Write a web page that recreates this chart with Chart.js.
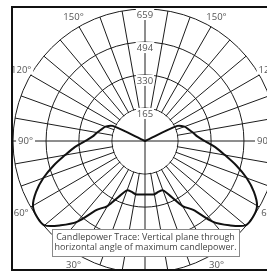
<!DOCTYPE html>
<html><head><meta charset="utf-8">
<script src="https://cdn.jsdelivr.net/npm/chart.js@4.4.0/dist/chart.umd.min.js"></script>
<style>
html,body{margin:0;padding:0;overflow:hidden;background:#fff;width:267px;height:274px;}
#clip{position:absolute;left:13px;top:9px;width:264px;height:260px;overflow:hidden;}
#frame{position:absolute;left:11px;top:6px;width:300px;height:261px;border:2px solid #111;pointer-events:none;}
canvas{display:block;}
</style></head><body>
<div id="clip"><canvas id="c" width="264" height="264" style="width:264px;height:264px"></canvas></div>
<div id="frame"></div>
<script>
// vertical angle from nadir (0° = straight down), going round the left side then the right side
const angles = [0,5,10,15,20,25,30,35,40,45,50,55,60,65,70,75,80,85,90,95,100,105,110,115,120,125,130,135,140,145,150,155,160,165,170,175,
                180,185,190,195,200,205,210,215,220,225,230,235,240,245,250,255,260,265,270,275,280,285,290,295,300,305,310,315,320,325,330,335,340,345,350,355];
// candela values
const candela = [267,268,270,262,262,305,375,420,525,595,655,659,646,600,540,472,405,352,298,262,243,225,210,178,0,0,0,0,0,0,0,0,0,0,0,0,
                 0,0,0,0,0,0,0,0,0,0,0,0,0,178,210,225,243,262,298,352,405,472,540,600,646,659,655,595,525,420,375,305,262,262,270,268];
const ringValues = [165,330,494,659];
const ringLabels = ['165','330','494','659'];
const angleTickValues = [30,60,90,120,150];
const angleTickLabels = ['30°','60°','90°','120°','150°'];
const noteLines = ['Candlepower Trace: Vertical plane through','horizontal angle of maximum candlepower.'];

const gridColor = '#1c1c1c';
const labelFont = '9.5px "Open Sans", sans-serif';

const overlay = {
  id: 'overlay',
  beforeDatasetsDraw(chart) {
    const s = chart.scales.r, ctx = chart.ctx;
    const r0 = s.getDistanceFromCenterForValue(ringValues[0]);
    const top = angles.indexOf(180), left = angles.indexOf(90), right = angles.indexOf(270);
    ctx.save();
    ctx.fillStyle = '#fff';
    ctx.beginPath(); ctx.arc(s.xCenter, s.yCenter, r0 - 0.6, 0, Math.PI * 2); ctx.fill();
    ctx.strokeStyle = gridColor; ctx.lineWidth = 1;
    [[0, top], [left, right]].forEach(([a, b]) => {
      const p = s.getPointPosition(a, r0), q = s.getPointPosition(b, r0);
      ctx.beginPath(); ctx.moveTo(p.x, p.y); ctx.lineTo(q.x, q.y); ctx.stroke();
    });
    ctx.font = labelFont; ctx.textAlign = 'center'; ctx.textBaseline = 'middle';
    ringValues.forEach((v, i) => {
      const p = s.getPointPosition(top, s.getDistanceFromCenterForValue(v) - 5.5);
      const w = ctx.measureText(ringLabels[i]).width;
      ctx.fillStyle = '#fff'; ctx.fillRect(p.x - w / 2 - 1, p.y - 5.5, w + 2, 11);
      ctx.fillStyle = '#555'; ctx.fillText(ringLabels[i], p.x, p.y + 0.5);
    });
    ctx.restore();
  },
  afterDraw(chart) {
    const s = chart.scales.r, ctx = chart.ctx, R = s.drawingArea;
    ctx.save();
    ctx.font = labelFont; ctx.textAlign = 'center'; ctx.textBaseline = 'middle';
    angleTickValues.forEach((a, i) => {
      const d = a === 90 ? R * 0.905 : R * 1.083;
      [angles.indexOf(a), angles.indexOf(360 - a)].forEach(idx => {
        const p = s.getPointPosition(idx, d);
        const w = ctx.measureText(angleTickLabels[i]).width;
        ctx.fillStyle = '#fff'; ctx.fillRect(p.x - w / 2 - 2, p.y - 5, w + 4, 10);
        ctx.fillStyle = '#555'; ctx.fillText(angleTickLabels[i], p.x, p.y + 0.5);
      });
    });
    const bx = s.xCenter - 93, by = s.yCenter + 88, bw = 187, bh = 27;
    ctx.fillStyle = '#fff'; ctx.fillRect(bx, by, bw, bh);
    ctx.strokeStyle = '#8a8a8a'; ctx.lineWidth = 1; ctx.strokeRect(bx + 0.5, by + 0.5, bw, bh);
    ctx.fillStyle = '#444'; ctx.font = '9px "Open Sans", sans-serif';
    noteLines.forEach((t, i) => ctx.fillText(t, s.xCenter + 0.5, by + 8 + i * 10.5));
    ctx.restore();
  }
};

new Chart(document.getElementById('c'), {
  type: 'radar',
  data: {
    labels: angles.map(a => a + '°'),
    datasets: [{
      data: candela, borderColor: '#111', borderWidth: 2, fill: false,
      pointRadius: 0, pointHoverRadius: 0, tension: 0.3
    }]
  },
  options: {
    responsive: false, animation: false, devicePixelRatio: 1,
    events: [],
    layout: { padding: 0 },
    plugins: { legend: { display: false }, tooltip: { enabled: false } },
    elements: { line: { borderJoinStyle: 'round' } },
    scales: {
      r: {
        min: 0, max: 659, startAngle: 180,
        afterBuildTicks: sc => { sc.ticks = [0].concat(ringValues).map(v => ({ value: v })); },
        ticks: { display: false },
        pointLabels: { display: false },
        grid: { circular: true, color: gridColor, lineWidth: 1 },
        angleLines: { color: gridColor, lineWidth: c => (angles[c.index] % 10 === 0 ? 1 : 0) }
      }
    }
  },
  plugins: [overlay]
});
</script>
</body></html>
